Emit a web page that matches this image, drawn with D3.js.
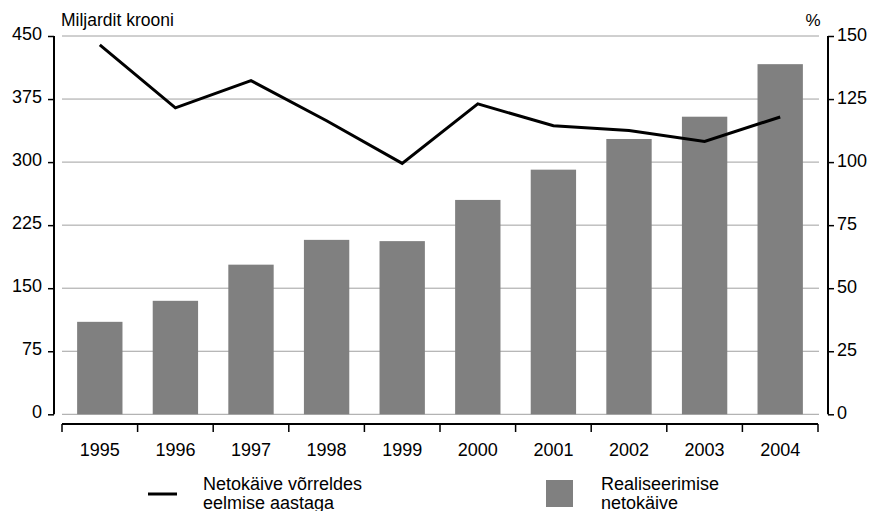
<!DOCTYPE html>
<html><head><meta charset="utf-8">
<script src="https://cdn.jsdelivr.net/npm/d3@7"></script>
<style>
body{margin:0;background:#fff}
svg text{font-family:"Liberation Sans",Arial,Helvetica,sans-serif;fill:#000}
</style></head>
<body>
<svg id="c" width="872" height="511"></svg>
<script>
const years = ["1995","1996","1997","1998","1999","2000","2001","2002","2003","2004"];
const salesValues = [110, 135, 178, 207.5, 206, 255, 291, 327.5, 354, 416.5];
const growthValues = [146.5, 121.5, 132.3, 116.4, 99.5, 123.1, 114.4, 112.5, 108.2, 117.9];
const leftTicks = [0, 75, 150, 225, 300, 375, 450];
const rightTicks = [0, 25, 50, 75, 100, 125, 150];
const leftTitle = "Miljardit krooni";
const rightTitle = "%";
const legendLine = ["Netokäive võrreldes", "eelmise aastaga"];
const legendBar = ["Realiseerimise", "netokäive"];

const svg = d3.select("#c");
const x = d3.scaleBand().domain(years).range([62, 818]).paddingInner(0.4).paddingOuter(0.2);
const yL = d3.scaleLinear().domain([0, 450]).range([414.3, 36]);
const yR = d3.scaleLinear().domain([0, 150]).range([414.3, 36]);
const fs = "18px";
const ff = '"Liberation Sans",Arial,sans-serif';

// gridlines
svg.append("g").selectAll("line").data(leftTicks).join("line")
  .attr("x1", 62).attr("x2", 819)
  .attr("y1", d => yL(d)).attr("y2", d => yL(d))
  .attr("stroke", "#a0a0a0").attr("stroke-width", 1);

// bars
svg.append("g").selectAll("rect").data(years).join("rect")
  .attr("x", d => x(d)).attr("width", x.bandwidth())
  .attr("y", (d, i) => yL(salesValues[i]))
  .attr("height", (d, i) => yL(0) - yL(salesValues[i]))
  .attr("fill", "#808080");

// line
const line = d3.line().x((d, i) => x(years[i]) + x.bandwidth() / 2).y(d => yR(d));
svg.append("path").datum(growthValues).attr("d", line)
  .attr("fill", "none").attr("stroke", "#000").attr("stroke-width", 3)
  .attr("stroke-linejoin", "miter");

// left axis
const gL = svg.append("g").attr("transform", "translate(54,0)")
  .call(d3.axisLeft(yL).tickValues(leftTicks).tickSize(6).tickPadding(6));
gL.select(".domain").attr("stroke", "#000").attr("stroke-width", 2).attr("d", `M0,${yL(450)}V${yL(0)}`);
gL.selectAll(".tick line").attr("stroke", "#000").attr("stroke-width", 1.5);
gL.selectAll(".tick text").attr("font-size", fs).attr("dy", "0.2em")
  .style("font-family", ff).attr("fill", "#000");

// right axis
const gR = svg.append("g").attr("transform", "translate(828,0)")
  .call(d3.axisRight(yR).tickValues(rightTicks).tickSize(6).tickPadding(3));
gR.select(".domain").attr("stroke", "#000").attr("stroke-width", 2).attr("d", `M0,${yR(150)}V${yR(0)}`);
gR.selectAll(".tick line").attr("stroke", "#000").attr("stroke-width", 1.5);
gR.selectAll(".tick text").attr("font-size", fs).attr("dy", "0.25em")
  .style("font-family", ff).attr("fill", "#000");

// x axis
const boundaries = years.map(d => x(d) - x.step() * x.paddingInner() / 2).concat([818]);
boundaries[0] = 62;
svg.append("line").attr("x1", 62).attr("x2", 818).attr("y1", 424).attr("y2", 424)
  .attr("stroke", "#000").attr("stroke-width", 2.2);
svg.append("g").selectAll("line").data(boundaries).join("line")
  .attr("x1", d => d).attr("x2", d => d).attr("y1", 424).attr("y2", 432)
  .attr("stroke", "#000").attr("stroke-width", 1.5);
svg.append("g").selectAll("text").data(years).join("text")
  .attr("x", d => x(d) + x.bandwidth() / 2).attr("y", 456)
  .attr("text-anchor", "middle").attr("font-size", fs)
  .text(d => d);

// titles
svg.append("text").attr("x", 61).attr("y", 26).attr("font-size", "17.5px").text(leftTitle);
svg.append("text").attr("x", 813).attr("y", 26).attr("text-anchor", "middle").attr("font-size", "17px").text(rightTitle);

// legend
svg.append("line").attr("x1", 148).attr("x2", 177).attr("y1", 494).attr("y2", 494)
  .attr("stroke", "#000").attr("stroke-width", 3);
svg.append("g").selectAll("text").data(legendLine).join("text")
  .attr("x", 203).attr("y", (d, i) => 490 + i * 18.5).attr("font-size", fs).text(d => d);
svg.append("rect").attr("x", 546).attr("y", 480).attr("width", 27).attr("height", 27).attr("fill", "#808080");
svg.append("g").selectAll("text").data(legendBar).join("text")
  .attr("x", 601).attr("y", (d, i) => 490 + i * 18.5).attr("font-size", fs).text(d => d);
</script>
</body></html>
